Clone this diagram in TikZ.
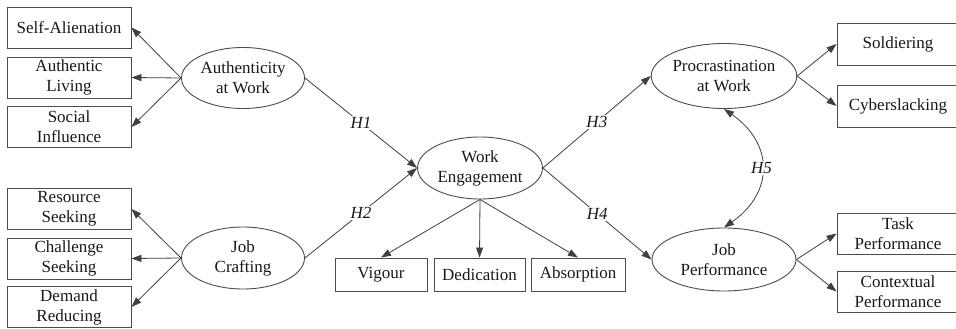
\documentclass[tikz,border=0pt]{standalone}
\usepackage{fontspec}
\setmainfont{Liberation Serif}
\usetikzlibrary{arrows.meta,shapes.geometric}
\begin{document}
\begin{tikzpicture}[x=1pt,y=-1pt,
  font=\fontsize{17}{20}\selectfont,
  every node/.style={text=black!90},
  ind/.style={draw=black!70,line width=0.9pt,rectangle,inner sep=0pt,align=center,minimum width=124pt,minimum height=41pt},
  sm/.style={draw=black!70,line width=0.9pt,rectangle,inner sep=0pt,align=center,minimum height=33pt},
  lat/.style={draw=black!70,line width=0.9pt,ellipse,inner sep=0pt,align=center},
  arr/.style={draw=black!75,line width=0.8pt,-{Triangle[length=10pt,width=7pt]}},
  dbl/.style={draw=black!75,line width=0.8pt,{Triangle[length=10pt,width=7pt]}-{Triangle[length=10pt,width=7pt]}},
  hlab/.style={fill=white,inner sep=1.5pt,font=\fontsize{17}{20}\selectfont\itshape}
]
\useasboundingbox (0,0) rectangle (956,329);
\clip (0,0) rectangle (956,329);
\fill[white] (0,0) rectangle (956,329);

% left indicator boxes
\node[ind] (sa) at (69,27.5) {Self-Alienation};
\node[ind] (al) at (69,77.5) {Authentic\\Living};
\node[ind] (si) at (69,127) {Social\\Influence};
\node[ind] (rs) at (69,209) {Resource\\Seeking};
\node[ind] (cs) at (69,258.5) {Challenge\\Seeking};
\node[ind] (dr) at (69,307) {Demand\\Reducing};

% latent variables
\node[lat,minimum width=123pt,minimum height=61pt] (aw) at (243,78) {Authenticity\\at Work};
\node[lat,minimum width=123pt,minimum height=62pt] (jc) at (243,258) {Job\\Crafting};
\node[lat,minimum width=125pt,minimum height=62pt] (we) at (480,168) {Work\\Engagement};
\node[lat,minimum width=145pt,minimum height=65pt] (pw) at (724,76) {Procrastination\\at Work};
\node[lat,minimum width=144pt,minimum height=63pt] (jp) at (724,259.5) {Job\\Performance};

% work engagement indicators
\node[sm,minimum width=92pt] (vi) at (381,274.5) {Vigour};
\node[sm,minimum width=91pt] (de) at (479.5,274.5) {Dedication};
\node[sm,minimum width=94pt] (ab) at (578,274.5) {Absorption};

% right indicator boxes
\node[ind,minimum width=122pt,minimum height=42pt] (so) at (898,44) {Soldiering};
\node[ind,minimum width=122pt,minimum height=42pt] (cy) at (898,106) {Cyberslacking};
\node[ind,minimum width=122pt] (tp) at (898,233.5) {Task\\Performance};
\node[ind,minimum width=122pt] (cp) at (898,291.5) {Contextual\\Performance};

% measurement arrows
\draw[arr] (aw.west) -- (sa.east);
\draw[arr] (aw.west) -- (al.east);
\draw[arr] (aw.west) -- (si.east);
\draw[arr] (jc.west) -- (rs.east);
\draw[arr] (jc.west) -- (cs.east);
\draw[arr] (jc.west) -- (dr.east);
\draw[arr] (we.south) -- (vi.north);
\draw[arr] (we.south) -- (de.north);
\draw[arr] (we.south) -- (ab.north);
\draw[arr] (pw.east) -- (so.west);
\draw[arr] (pw.east) -- (cy.west);
\draw[arr] (jp.east) -- (tp.west);
\draw[arr] (jp.east) -- (cp.west);

% structural paths
\draw[arr] (aw.east) -- node[hlab] {H1} (we.west);
\draw[arr] (jc.east) -- node[hlab] {H2} (we.west);
\draw[arr] (we.east) -- node[hlab] {H3} (pw.west);
\draw[arr] (we.east) -- node[hlab] {H4} (jp.west);
\draw[dbl] (pw.south) .. controls +(50,35) and +(50,-35) .. node[hlab] {H5} (jp.north);
\end{tikzpicture}
\end{document}
